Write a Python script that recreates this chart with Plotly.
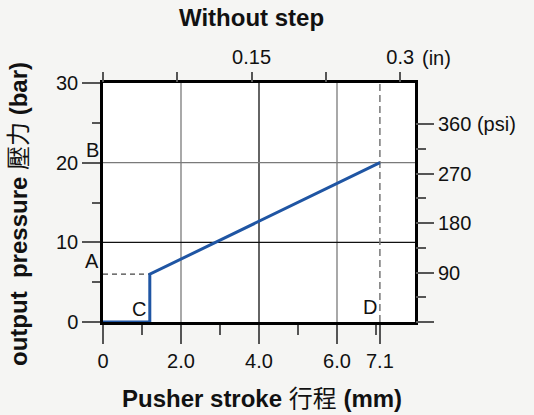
import plotly.graph_objects as go

# ---- data ----
stroke_mm = [0, 1.2, 1.2, 7.1]
pressure_bar = [0, 0, 6, 20]

point_a_bar = 6
point_b_bar = 20
point_c_mm = 1.2
point_d_mm = 7.1

x_tickvals = [0, 2, 4, 6, 7.1]
x_ticktext = ["0", "2.0", "4.0", "6.0", "7.1"]
x_minor = [1, 3, 5, 7]
y_tickvals = [0, 10, 20, 30]
y_minor = [5, 15, 25]
in_tickvals = [0, 0.075, 0.15, 0.225, 0.3]
in_ticktext = ["", "", "0.15", "", "0.3"]
psi_tickvals = [0, 90, 180, 270, 360]
psi_ticktext = ["", "90", "180", "270", "360 (psi)"]
psi_minor = [45, 135, 225, 315]
grid_x = [2, 4, 6]
grid_x_colors = ["#7a7a7a", "#111111", "#7a7a7a"]
grid_y = [10, 20]
grid_y_colors = ["#111111", "#7a7a7a"]

X_MAX = 8
Y_MAX = 30
PSI_PER_BAR = 14.5038
MM_PER_IN = 25.4

FONT = "Liberation Sans, Arial, Noto Sans CJK TC, sans-serif"
TICK_C = "#555555"

fig = go.Figure()

# dashed reference lines
fig.add_trace(go.Scatter(x=[0, point_c_mm], y=[point_a_bar, point_a_bar], mode="lines",
                         line=dict(color="#444444", width=1.3, dash="5px,4px"), hoverinfo="skip"))
fig.add_trace(go.Scatter(x=[point_d_mm, point_d_mm], y=[0, Y_MAX], mode="lines",
                         line=dict(color="#777777", width=1.5, dash="7px,4px"), hoverinfo="skip"))
# main curve
fig.add_trace(go.Scatter(x=stroke_mm, y=pressure_bar, mode="lines",
                         line=dict(color="#1f55a3", width=3), cliponaxis=False))
# dummy traces to activate secondary axes
fig.add_trace(go.Scatter(x=[0], y=[0], xaxis="x2", yaxis="y", mode="markers",
                         marker=dict(opacity=0), hoverinfo="skip"))
fig.add_trace(go.Scatter(x=[0], y=[0], xaxis="x", yaxis="y2", mode="markers",
                         marker=dict(opacity=0), hoverinfo="skip"))

shapes = []
for gx, gc in zip(grid_x, grid_x_colors):
    shapes.append(dict(type="line", xref="x", yref="y domain", x0=gx, x1=gx, y0=0, y1=1,
                       line=dict(color=gc, width=1.3), layer="below"))
for gy, gc in zip(grid_y, grid_y_colors):
    shapes.append(dict(type="line", xref="x domain", yref="y", x0=0, x1=1, y0=gy, y1=gy,
                       line=dict(color=gc, width=1.3), layer="below"))

tickfont = dict(family=FONT, size=20, color="#111111")

fig.update_layout(
    width=534, height=415,
    margin=dict(l=103, r=119, t=83, b=93),
    paper_bgcolor="#f5f5f3", plot_bgcolor="#ffffff",
    showlegend=False,
    shapes=shapes,
    font=dict(family=FONT, color="#111111"),
    xaxis=dict(range=[0, X_MAX], tickmode="array", tickvals=x_tickvals, ticktext=x_ticktext,
               ticks="outside", ticklen=19, tickwidth=1.5, tickcolor=TICK_C,
               minor=dict(tickmode="array", tickvals=x_minor, ticks="outside", ticklen=10,
                          tickwidth=1.5, tickcolor=TICK_C, showgrid=False),
               showgrid=False, zeroline=False, showline=True, linewidth=2.5, linecolor="#000000",
               mirror=True, tickfont=tickfont, fixedrange=True),
    xaxis2=dict(range=[0, X_MAX / MM_PER_IN], overlaying="x", side="top", anchor="y",
                tickmode="array", tickvals=in_tickvals, ticktext=in_ticktext,
                ticks="outside", ticklen=10, tickwidth=1.5, tickcolor=TICK_C,
                showgrid=False, zeroline=False, showline=False, tickfont=tickfont),
    yaxis=dict(range=[0, Y_MAX], tickmode="array", tickvals=y_tickvals,
               ticks="outside", ticklen=18, tickwidth=1.5, tickcolor=TICK_C,
               minor=dict(tickmode="array", tickvals=y_minor, ticks="outside", ticklen=8,
                          tickwidth=1.5, tickcolor=TICK_C, showgrid=False),
               showgrid=False, zeroline=False, showline=True, linewidth=2.5, linecolor="#000000",
               mirror=True, tickfont=tickfont),
    yaxis2=dict(range=[0, Y_MAX * PSI_PER_BAR], overlaying="y", side="right", anchor="x",
                tickmode="array", tickvals=psi_tickvals, ticktext=psi_ticktext,
                ticks="outside", ticklen=18, tickwidth=1.5, tickcolor=TICK_C,
                minor=dict(tickmode="array", tickvals=psi_minor, ticks="outside", ticklen=10,
                           tickwidth=1.5, tickcolor=TICK_C, showgrid=False),
                showgrid=False, zeroline=False, showline=False, tickfont=tickfont),
)

lbl = dict(family=FONT, size=20, color="#111111")
bold24 = dict(family=FONT, size=24, color="#111111")
annotations = [
    dict(text="<b>Without step</b>", xref="paper", yref="paper", x=(251 - 103) / 312, y=1,
         yshift=66, xanchor="center", yanchor="middle", showarrow=False, font=bold24),
    dict(text="<b>Pusher stroke</b> 行程 <b>(mm)</b>", xref="paper", yref="paper", x=(262 - 103) / 312, y=0,
         yshift=-76, xanchor="center", yanchor="middle", showarrow=False, font=bold24),
    dict(text="<b>output  pressure</b> 壓力 <b>(bar)</b>", xref="paper", yref="paper", x=0, xshift=-84,
         y=(322 - 214) / 239, xanchor="center", yanchor="middle", textangle=-90, showarrow=False,
         font=bold24),
    dict(text="(in)", xref="x2", yref="paper", x=0.3, xshift=20, y=1, yshift=25,
         xanchor="left", yanchor="middle", showarrow=False, font=lbl),
    dict(text="A", xref="x", yref="y", x=0, y=point_a_bar, xshift=-2, xanchor="right",
         yanchor="bottom", showarrow=False, font=lbl),
    dict(text="B", xref="x", yref="y", x=0, y=point_b_bar, xshift=-2, xanchor="right",
         yanchor="bottom", showarrow=False, font=lbl),
    dict(text="C", xref="x", yref="y", x=point_c_mm, y=0, xshift=-2, yshift=0, xanchor="right",
         yanchor="bottom", showarrow=False, font=lbl),
    dict(text="D", xref="x", yref="y", x=point_d_mm, y=0, xshift=-1, yshift=2, xanchor="right",
         yanchor="bottom", showarrow=False, font=lbl),
]
fig.update_layout(annotations=annotations)

fig.write_html("out.html", config={"displayModeBar": False},
               post_script="document.body.style.margin='0';document.body.style.overflow='hidden';")
